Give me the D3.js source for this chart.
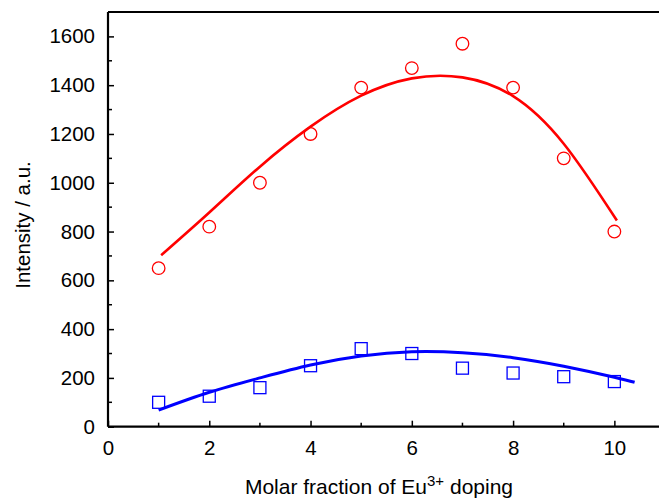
<!DOCTYPE html>
<html><head><meta charset="utf-8">
<script src="https://cdn.jsdelivr.net/npm/d3@7/dist/d3.min.js"></script>
<style>body{margin:0;background:#fff}svg{display:block}</style>
</head><body>
<svg id="c" width="659" height="498"></svg>
<script>
const xVals = [1,2,3,4,5,6,7,8,9,10];
const redVals = [650,820,1000,1200,1390,1470,1570,1390,1100,800];
const blueVals = [100,125,160,250,320,300,240,220,205,185];
// fitted curves
const redFitX = [1.05,2,3,4,5,6,7,8,9,10.05];
const redFitY = [703,878,1066,1230,1357,1428,1432,1355,1160,845];
const blueFitX = [1,2,3,4,5,6,7,8,9,10,10.4];
const blueFitY = [68,141,200,253,290,307,303,283,248,203,182];
const xTicks = [0,2,4,6,8,10];
const yTicks = [0,200,400,600,800,1000,1200,1400,1600];

const svg = d3.select("#c");
const x = d3.scaleLinear().domain([0,11]).range([108,665]);
const y = d3.scaleLinear().domain([0,1700]).range([426.7,12]);
const font = "Liberation Sans, Arial, sans-serif";

// top frame line
svg.append("line").attr("x1",108).attr("x2",665).attr("y1",y(1700)).attr("y2",y(1700)).attr("stroke","#000").attr("stroke-width",2);

const xAxis = svg.append("g").attr("transform",`translate(0,${y(0)})`)
  .call(d3.axisBottom(x).tickValues(xTicks).tickSize(-6).tickPadding(14).tickFormat(d3.format("d")));
xAxis.append("g").selectAll("line").data([1,3,5,7,9]).join("line")
  .attr("x1",d=>x(d)).attr("x2",d=>x(d)).attr("y1",0).attr("y2",-4).attr("stroke","#000").attr("stroke-width",1.5);
const yAxis = svg.append("g").attr("transform",`translate(${x(0)},0)`)
  .call(d3.axisLeft(y).tickValues(yTicks).tickSize(-6).tickPadding(13).tickFormat(d3.format("d")));
yAxis.append("g").selectAll("line").data([100,300,500,700,900,1100,1300,1500]).join("line")
  .attr("x1",0).attr("x2",4).attr("y1",d=>y(d)).attr("y2",d=>y(d)).attr("stroke","#000").attr("stroke-width",1.5);
[xAxis,yAxis].forEach(a=>{
  a.select(".domain").attr("stroke","#000").attr("stroke-width",2.2);
  a.selectAll(".tick line").attr("stroke","#000").attr("stroke-width",1.5);
  a.selectAll("text").attr("font-family",font).attr("font-size",20.5).attr("fill","#000");
});
xAxis.select(".domain").attr("d",`M${x(0)},0H665`);
yAxis.select(".domain").attr("d",`M0,${y(0)}V${y(1700)}`);

// fitted curves
const line = d3.line().x(d=>x(d[0])).y(d=>y(d[1])).curve(d3.curveNatural);
svg.append("path").datum(redFitX.map((v,i)=>[v,redFitY[i]])).attr("d",line)
  .attr("fill","none").attr("stroke","#ff0000").attr("stroke-width",2.6);
svg.append("path").datum(blueFitX.map((v,i)=>[v,blueFitY[i]])).attr("d",line)
  .attr("fill","none").attr("stroke","#0000ff").attr("stroke-width",3);

// markers
svg.append("g").selectAll("circle").data(xVals).join("circle")
  .attr("cx",d=>x(d)).attr("cy",(d,i)=>y(redVals[i])).attr("r",6.3)
  .attr("fill","none").attr("stroke","#ff0000").attr("stroke-width",1.3);
svg.append("g").selectAll("rect").data(xVals).join("rect")
  .attr("x",d=>x(d)-6).attr("y",(d,i)=>y(blueVals[i])-6).attr("width",12).attr("height",12)
  .attr("fill","none").attr("stroke","#0000ff").attr("stroke-width",1.3);

// titles
const xt = svg.append("text").attr("x",379).attr("y",494).attr("text-anchor","middle")
  .attr("font-family",font).attr("font-size",21).attr("fill","#000");
xt.append("tspan").text("Molar fraction of Eu");
xt.append("tspan").attr("font-size",15).attr("dy",-8).text("3+");
xt.append("tspan").attr("dy",8).text(" doping");
svg.append("text").attr("transform","translate(30,225) rotate(-90)").attr("text-anchor","middle")
  .attr("font-family",font).attr("font-size",20.5).attr("fill","#000").text("Intensity / a.u.");
</script>
</body></html>
